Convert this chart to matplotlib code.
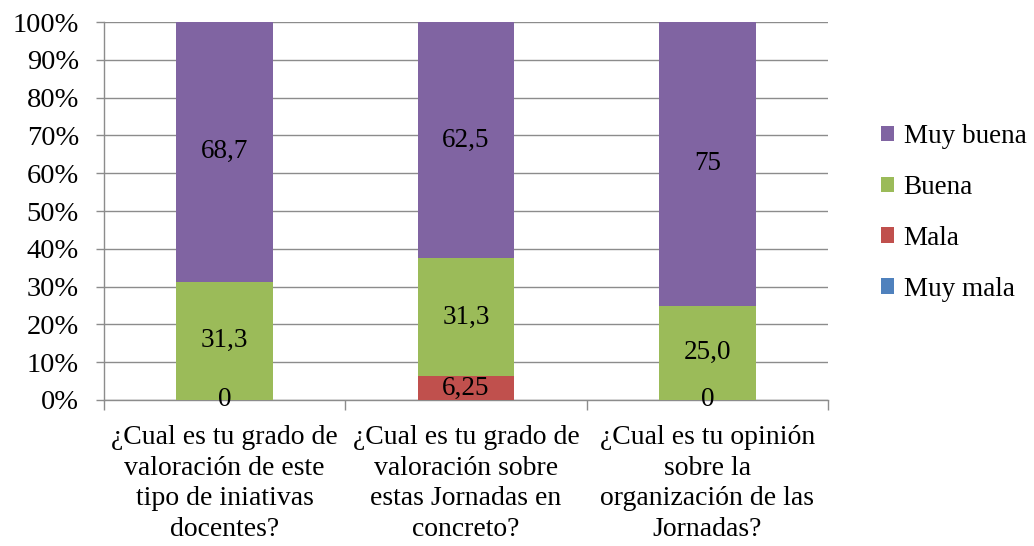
import matplotlib
matplotlib.use("Agg")
import matplotlib.pyplot as plt
import numpy as np

categories = [
    "¿Cual es tu grado de\nvaloración de este\ntipo de iniativas\ndocentes?",
    "¿Cual es tu grado de\nvaloración sobre\nestas Jornadas en\nconcreto?",
    "¿Cual es tu opinión\nsobre la\norganización de las\nJornadas?",
]
muy_mala = [0, 0, 0]
mala = [0, 6.25, 0]
buena = [31.3, 31.3, 25.0]
muy_buena = [68.7, 62.5, 75]

mala_labels = ["0", "6,25", "0"]
buena_labels = ["31,3", "31,3", "25,0"]
muy_buena_labels = ["68,7", "62,5", "75"]

series_names = ["Muy mala", "Mala", "Buena", "Muy buena"]
colors = ["#4F81BD", "#C0504D", "#9BBB59", "#8064A2"]

plt.rcParams['font.family'] = ['Liberation Serif', 'DejaVu Serif']

fig = plt.figure(figsize=(10.34, 5.46), dpi=100)
ax = fig.add_axes([0.1006, 0.2674, 0.7002, 0.6923])

data = np.array([muy_mala, mala, buena, muy_buena], dtype=float)
totals = data.sum(axis=0)
pct = data / totals * 100
x = np.arange(len(categories))
width = 0.4
bottom = np.zeros(len(categories))
bars = []
for i, name in enumerate(series_names):
    b = ax.bar(x, pct[i], width, bottom=bottom, color=colors[i], label=name, zorder=3)
    bars.append(b)
    bottom += pct[i]

label_sets = {1: mala_labels, 2: buena_labels, 3: muy_buena_labels}
for idx, labs in label_sets.items():
    bot = pct[:idx].sum(axis=0)
    for j in range(len(categories)):
        yc = bot[j] + pct[idx][j] / 2
        ax.text(x[j], yc, labs[j], ha='center', va='center', fontsize=19.5, color='black', zorder=5)

ax.set_xlim(-0.5, 2.5)
ax.set_ylim(0, 100)
ax.set_yticks(np.arange(0, 101, 10))
ax.set_yticklabels([f"{v}%" for v in range(0, 101, 10)], fontsize=20.5)
ax.set_xticks(x)
ax.set_xticklabels(categories, fontsize=20, linespacing=1.3)
ax.set_xticks([-0.5, 0.5, 1.5, 2.5], minor=True)
ax.tick_params(axis='x', which='major', length=0, pad=18)
ax.tick_params(axis='x', which='minor', length=7, color='#8C8C8C', width=1)
ax.tick_params(axis='y', length=6, color='#8C8C8C', width=1, pad=12)
ax.yaxis.grid(True, color='#8C8C8C', linewidth=1, zorder=0)
ax.set_axisbelow(True)
for s in ['top', 'right']:
    ax.spines[s].set_visible(False)
for s in ['left', 'bottom']:
    ax.spines[s].set_color('#8C8C8C')
    ax.spines[s].set_linewidth(1)

handles = [bars[3], bars[2], bars[1], bars[0]]
labels = ["Muy buena", "Buena", "Mala", "Muy mala"]
leg = fig.legend(handles, labels, loc='center left', bbox_to_anchor=(0.828, 0.61),
                 frameon=False, fontsize=19.5, handlelength=0.5, handleheight=0.5,
                 handletextpad=0.35, labelspacing=0.95)

fig.savefig("out.png", dpi=100)
